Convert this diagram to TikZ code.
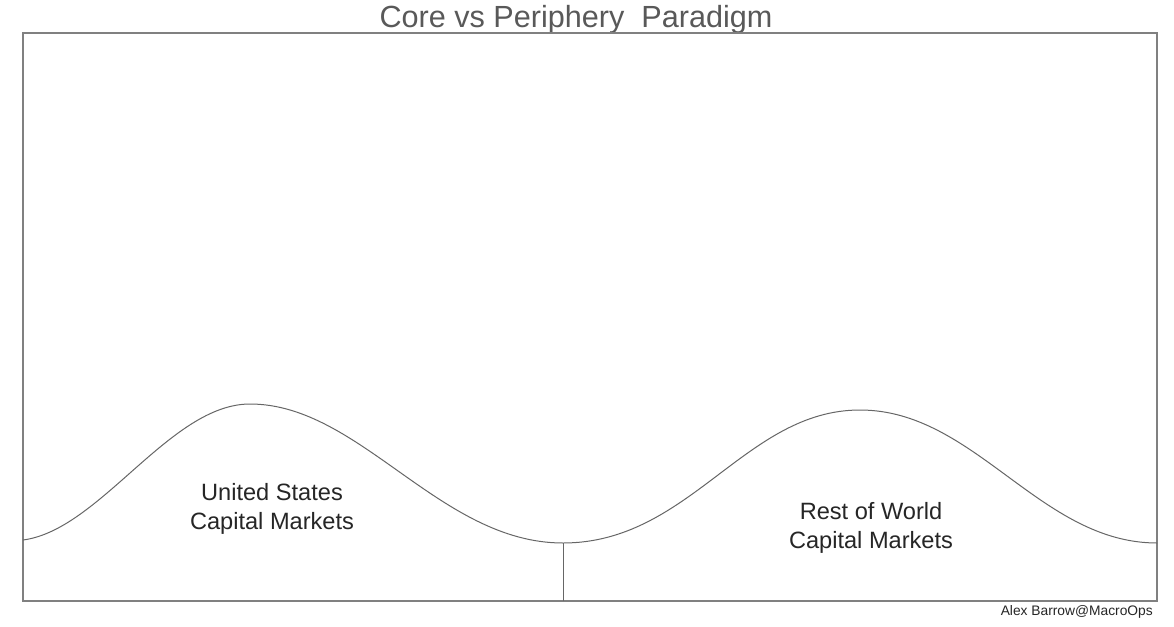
\documentclass[tikz,border=0pt]{standalone}
\usepackage{fontspec}
\setmainfont{Liberation Sans}
\begin{document}
\begin{tikzpicture}[x=1pt,y=-1pt,
  frame/.style={draw=black!50,line width=1.2pt},
  wave/.style={draw=black!60,line width=1pt},
  label/.style={align=center,text=black!85,font=\fontsize{23.6}{29}\selectfont,inner sep=0pt},
  titlestyle/.style={text=black!65,font=\fontsize{30.6}{34}\selectfont,inner sep=0pt},
  credit/.style={text=black!85,font=\fontsize{13.8}{16}\selectfont,inner sep=0pt,anchor=east}]
\useasboundingbox (0,0) rectangle (1174,626);
\fill[white] (0,0) rectangle (1174,626);
\node[titlestyle] (title) at (576,20) {Core vs Periphery\ \ Paradigm};
\draw[frame] (23,33) rectangle (1157,601);
\coordinate (s) at (23,540);
\coordinate (p1) at (250,404);
\coordinate (t) at (563,543);
\coordinate (p2) at (860,410);
\coordinate (e) at (1157,543);
\coordinate (tb) at (563,601);
\draw[wave] (s) .. controls (100,530) and (170,404) .. (p1)
  .. controls (360,404) and (440,543) .. (t)
  .. controls (690,543) and (745,410) .. (p2)
  .. controls (975,410) and (1040,543) .. (e);
\draw[wave] (t) -- (tb);
\node[label] (us) at (272,509) {United States\\Capital Markets};
\node[label] (row) at (871,528) {Rest of World\\Capital Markets};
\node[credit] (cr) at (1153,612) {Alex Barrow@MacroOps};
\end{tikzpicture}
\end{document}
